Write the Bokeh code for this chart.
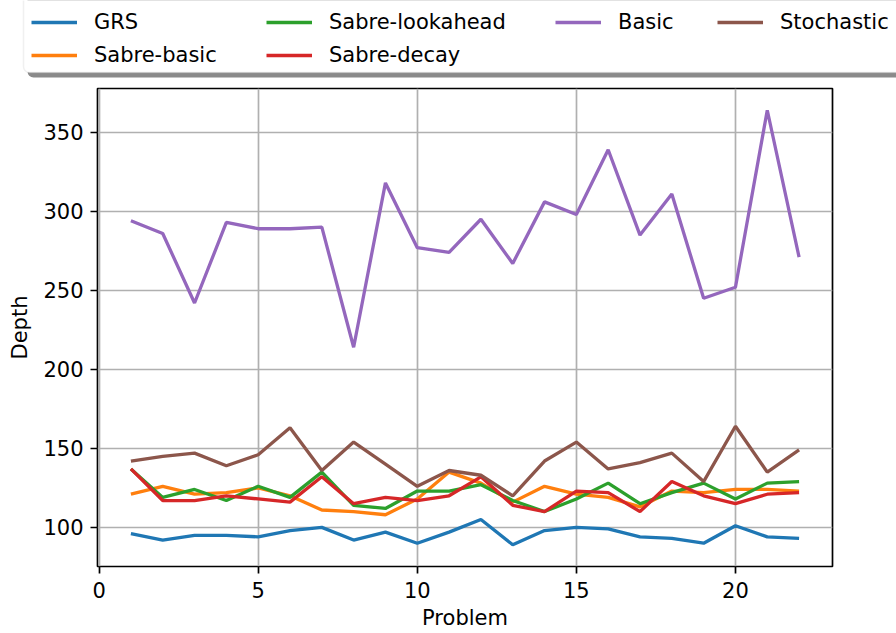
from bokeh.plotting import figure
from bokeh.models import Range1d, FixedTicker, Legend, LegendItem, BoxAnnotation
from bokeh.embed import file_html
from bokeh.resources import INLINE

problems = list(range(1, 23))

grs = [96, 92, 95, 95, 94, 98, 100, 92, 97, 90, 97, 105, 89, 98, 100, 99, 94, 93, 90, 101, 94, 93]
sabre_basic = [121, 126, 121, 122, 125, 120, 111, 110, 108, 118, 135, 128, 116, 126, 121, 119, 113, 123, 122, 124, 124, 123]
sabre_lookahead = [137, 119, 124, 117, 126, 119, 135, 114, 112, 123, 123, 127, 117, 110, 118, 128, 115, 122, 128, 118, 128, 129]
sabre_decay = [137, 117, 117, 120, 118, 116, 132, 115, 119, 117, 120, 132, 114, 110, 123, 122, 110, 129, 120, 115, 121, 122]
basic = [294, 286, 242, 293, 289, 289, 290, 214, 318, 277, 274, 295, 267, 306, 298, 339, 285, 311, 245, 252, 364, 271]
stochastic = [142, 145, 147, 139, 146, 163, 136, 154, 140, 126, 136, 133, 120, 142, 154, 137, 141, 147, 129, 164, 135, 149]

names = ["GRS", "Sabre-basic", "Sabre-lookahead", "Sabre-decay", "Basic", "Stochastic"]
values = [grs, sabre_basic, sabre_lookahead, sabre_decay, basic, stochastic]
colors = ["#1f77b4", "#ff7f0e", "#2ca02c", "#d62728", "#9467bd", "#8c564b"]

x_ticks = [0, 5, 10, 15, 20]
y_ticks = [100, 150, 200, 250, 300, 350]

FONT = "DejaVu Sans"
FS = "21px"
LW = 3.3

TOP_H = 80

# ---------- legend strip (top) ----------
top = figure(width=896, height=TOP_H, output_backend="svg", toolbar_location=None,
             x_axis_type=None, y_axis_type=None,
             x_range=Range1d(0, 896), y_range=Range1d(0, TOP_H),
             min_border_left=0, min_border_right=0, min_border_top=0, min_border_bottom=0)
top.outline_line_color = None
top.background_fill_color = "white"
top.border_fill_color = "white"

shadow = BoxAnnotation(left=27, right=910, bottom=3, top=TOP_H + 20,
                       left_units="screen", right_units="screen",
                       bottom_units="screen", top_units="screen",
                       fill_color="#8a8a8a", fill_alpha=1.0, line_color=None,
                       border_radius=6)
box = BoxAnnotation(left=23, right=905, bottom=8, top=TOP_H + 20,
                    left_units="screen", right_units="screen",
                    bottom_units="screen", top_units="screen",
                    fill_color="white", fill_alpha=1.0,
                    line_color="#cccccc", line_width=1.5,
                    border_radius=6)
top.add_layout(shadow, "center")
top.add_layout(box, "center")

# same series in the strip (they fall outside its range); used as legend handles
legend_renderers = [top.line(problems, vals, line_color=c, line_width=LW)
                    for vals, c in zip(values, colors)]

columns = [[0, 1], [2, 3], [4], [5]]
col_x = [31, 266, 555, 717]
for idxs, lx in zip(columns, col_x):
    items = [LegendItem(label=names[i], renderers=[legend_renderers[i]]) for i in idxs]
    ly = 12 if len(idxs) == 2 else 12 + 33
    lg = Legend(items=items, location=(lx, ly), orientation="vertical",
                padding=0, margin=0, spacing=7,
                glyph_width=46, glyph_height=26, label_height=26,
                label_standoff=17,
                label_text_font=FONT, label_text_font_size=FS,
                label_text_color="black",
                background_fill_alpha=0, border_line_alpha=0)
    top.add_layout(lg, "center")

# ---------- main chart ----------
p = figure(width=896, height=633 - TOP_H, output_backend="svg", toolbar_location=None,
           x_range=Range1d(-0.05, 23.05), y_range=Range1d(75.25, 377.75),
           min_border_left=97, min_border_right=64, min_border_top=88 - TOP_H,
           min_border_bottom=67)
p.background_fill_color = "white"
p.border_fill_color = "white"
p.outline_line_color = "black"
p.outline_line_width = 1.7

for name, vals, col in zip(names, values, colors):
    p.line(problems, vals, line_color=col, line_width=LW)

p.xaxis.ticker = FixedTicker(ticks=x_ticks)
p.yaxis.ticker = FixedTicker(ticks=y_ticks)
p.xaxis.axis_label = "Problem"
p.yaxis.axis_label = "Depth"
for ax in (p.xaxis, p.yaxis):
    ax.axis_label_text_font = FONT
    ax.axis_label_text_font_size = FS
    ax.axis_label_text_font_style = "normal"
    ax.axis_label_text_color = "black"
    ax.major_label_text_font = FONT
    ax.major_label_text_font_size = FS
    ax.major_label_text_color = "black"
    ax.axis_line_color = None
    ax.major_tick_line_color = "black"
    ax.major_tick_line_width = 1.7
    ax.major_tick_out = 7
    ax.major_tick_in = 0
    ax.minor_tick_line_color = None
p.xaxis.major_label_standoff = 8
p.xaxis.axis_label_standoff = 5
p.yaxis.major_label_standoff = 7
p.yaxis.axis_label_standoff = 8

p.grid.grid_line_color = "#b0b0b0"
p.grid.grid_line_width = 1.7

open("out.html", "w").write(file_html([top, p], INLINE))
